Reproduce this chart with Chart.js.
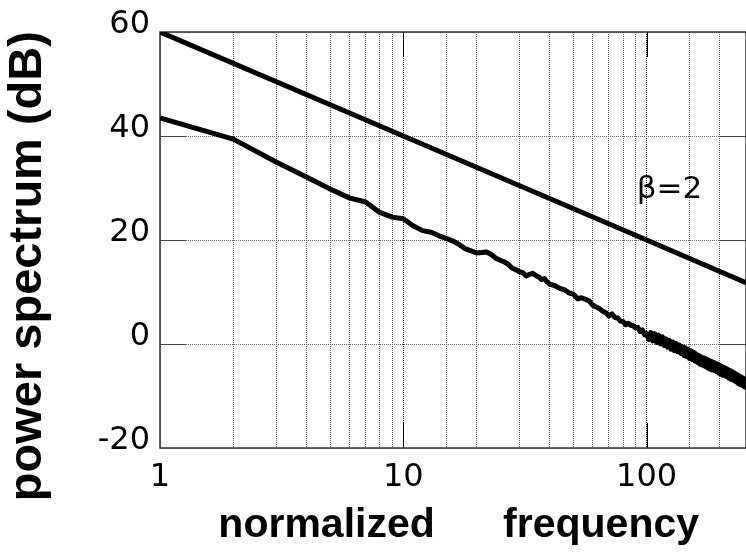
<!DOCTYPE html>
<html><head><meta charset="utf-8">
<script src="https://cdn.jsdelivr.net/npm/chart.js@4.4.0/dist/chart.umd.min.js"></script>
<style>html,body{margin:0;padding:0;background:#fff;overflow:hidden;width:746px;height:554px}canvas{display:block}</style>
</head><body>
<canvas id="c" width="756" height="554"></canvas>
<script>
// measured spectrum (normalized frequency, dB)
const freqLow = [1,2,3,4,5,6,7,8,9,10,11,12,13,14,15,16,17,18,19,20,21,22,23,24,25,26,27,28,29,30,31,32,33,34,35,36,37,38,39,40,
42,44,46,48,50,52,54,56,58,60,62,64,66,68,70,72,74,76,78,80,82,84,86,88,90,92,94,96,98,100,
102,104,106,108,110,112,114,116,118,120,122,124,126,128,130,132,134,136,138,140,142,144,146,148,150,152,154,156,158,160,
162,164,166,168,170,172,174,176,178,180,182,184,186,188,190,192,194,196,198,200,202,204,206,208,210,212,214,216,218,220,
222,224,226,228,230,232,234,236,238,240,242,244,246,248,250,252,254,256];
const powerLow = [43.5,39.4,35.0,32.1,29.8,28.1,27.3,25.3,24.4,24.1,22.7,21.8,21.5,20.8,20.3,19.8,19.1,18.3,17.9,17.5,17.6,17.7,17.2,16.5,16.1,15.8,15.3,14.6,14.3,13.9,13.7,13.1,13.4,13.6,13.2,12.9,12.4,12.6,11.9,11.5,
11.2,10.7,10.4,9.8,9.6,8.7,8.9,8.6,8.3,7.5,7.1,6.8,6.3,6.0,5.4,5.8,5.1,5.0,4.4,4.3,3.7,4.0,3.6,3.5,3.1,3.2,2.4,2.7,1.8,2.0,
0.9,2.2,0.6,2.0,0.3,1.7,0.0,1.4,-0.3,1.0,-0.6,0.7,-1.0,0.4,-1.3,0.1,-1.5,-0.2,-1.8,-0.5,-2.2,-0.7,-2.4,-1.0,-2.8,-1.3,-3.0,-1.6,-3.3,-1.9,
-3.6,-2.2,-3.9,-2.5,-4.1,-2.7,-4.3,-2.9,-4.6,-3.1,-4.8,-3.3,-5.0,-3.5,-5.1,-3.7,-5.3,-3.9,-5.6,-4.1,-5.8,-4.3,-6.0,-4.5,-6.1,-4.7,-6.3,-4.9,-6.6,-5.1,
-6.8,-5.3,-6.9,-5.5,-7.1,-5.7,-7.3,-5.9,-7.6,-6.1,-7.8,-6.3,-7.9,-6.5,-8.1,-6.7,-8.3,-6.9];
// reference 1/f^2 line (beta = 2)
const freqRef = [1,10,100,256];
const powerRef = [60,40,20,11.8];
// axis ticks
const xTickLabels = [1,10,100];
const yTicks = [-20,0,20,40,60];
const annotText = 'β=2';
const annotF = 91;
const annotDb = 28.1;

const toXY = (fs, vs) => fs.map((f,i)=>({x:f, y:vs[i]}));

const framePlugin = {
  id:'frame',
  beforeDatasetsDraw(chart){
    const {ctx, chartArea:a, scales:{x,y}} = chart;
    const line=(x1,y1,x2,y2)=>{ctx.beginPath();ctx.moveTo(x1,y1);ctx.lineTo(x2,y2);ctx.stroke();};
    ctx.save();
    ctx.lineWidth=1;
    ctx.strokeStyle='#000';
    for (const v of xTickLabels){ if(v===1) continue;
      const px=Math.round(x.getPixelForValue(v))+0.5;
      line(px,a.top,px,a.top+25); line(px,a.bottom-25,px,a.bottom);
    }
    ctx.strokeStyle='#444';
    for (const v of yTicks){ if(v===60||v===-20) continue;
      const py=Math.round(y.getPixelForValue(v))+0.5;
      line(a.left,py,a.left+26,py); line(a.right-26,py,a.right,py);
    }
    ctx.strokeStyle='#333'; ctx.lineWidth=1.5;
    ctx.strokeRect(a.left, a.top, a.right-a.left, a.bottom-a.top);
    ctx.restore();
  },
  afterDatasetsDraw(chart){
    const {ctx, scales:{x,y}} = chart;
    ctx.save();
    ctx.fillStyle='#000';
    ctx.font='31px "DejaVu Sans"';
    ctx.textAlign='left'; ctx.textBaseline='alphabetic';
    ctx.fillText(annotText, x.getPixelForValue(annotF), y.getPixelForValue(annotDb));
    ctx.restore();
  }
};

new Chart(document.getElementById('c'), {
  type:'scatter',
  data:{datasets:[
    {data:toXY(freqRef,powerRef), showLine:true, borderColor:'#000', borderWidth:5, pointRadius:0, tension:0},
    {data:toXY(freqLow,powerLow), showLine:true, borderColor:'#000', borderWidth:5, pointRadius:0, tension:0, borderJoinStyle:'round'}
  ]},
  options:{
    responsive:false, animation:false, devicePixelRatio:1,
    layout:{padding:{top:32,right:4,left:0,bottom:0}},
    plugins:{legend:{display:false}, tooltip:{enabled:false}},
    scales:{
      x:{type:'logarithmic', min:1, max:256,
        afterFit(s){s.height=106;},
        border:{display:false, dash:[1,1]},
        grid:{drawTicks:false, lineWidth:1, color:(c)=> (c.tick && (c.tick.value===10||c.tick.value===100)) ? '#000' : '#666'},
        ticks:{autoSkip:false, maxRotation:0, minRotation:0, padding:10, color:'#000',
          font:{family:'"DejaVu Sans"', size:32},
          callback:(v)=> xTickLabels.includes(v) ? String(v) : ''},
        title:{display:true, text:' normalized      frequency', color:'#000',
          font:{family:'"Liberation Sans"', size:41, weight:'bold', lineHeight:1}, padding:{top:0,bottom:8}}
      },
      y:{min:-20, max:60,
        afterFit(s){s.width=160;},
        afterBuildTicks(s){ s.ticks = yTicks.map(v=>({value:v})); },
        border:{display:false, dash:[1,1]},
        grid:{drawTicks:false, lineWidth:1, color:'#666'},
        ticks:{padding:10, labelOffset:-7, color:'#000', font:{family:'"DejaVu Sans"', size:32}},
        title:{display:true, text:'power spectrum (dB)    ', color:'#000',
          font:{family:'"Liberation Sans"', size:47, weight:'bold', lineHeight:1}, padding:{top:5,bottom:0}}
      }
    }
  },
  plugins:[framePlugin]
});
</script>
</body></html>
